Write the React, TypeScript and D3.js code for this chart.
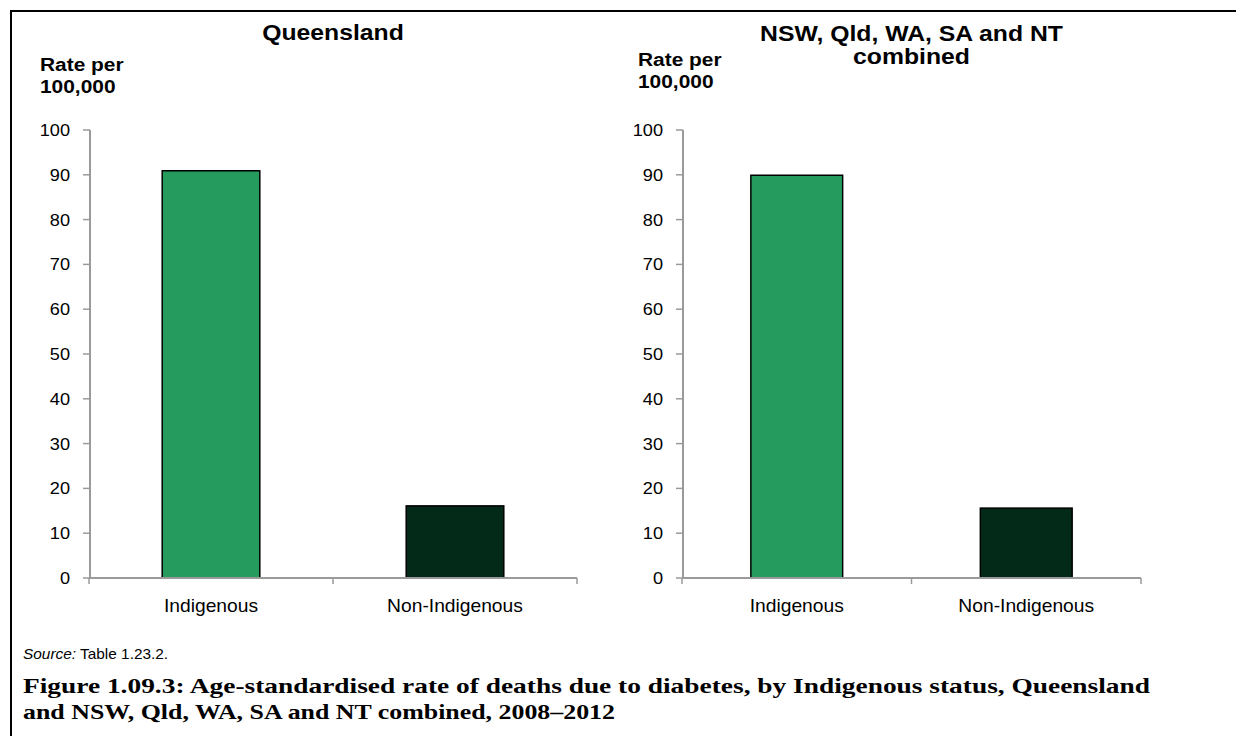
import React from "react";
import * as d3 from "d3";

const categories = ["Indigenous", "Non-Indigenous"];
const qldValues = [90.9, 16.1];
const combinedValues = [89.9, 15.6];
const yTickValues = [0, 10, 20, 30, 40, 50, 60, 70, 80, 90, 100];
const barColors = ["#259B5E", "#032A18"];
const panelTitles = [["Queensland"], ["NSW, Qld, WA, SA and NT", "combined"]];
const yAxisLabel = ["Rate per", "100,000"];
const captionLines = [
  "Figure 1.09.3: Age-standardised rate of deaths due to diabetes, by Indigenous status, Queensland",
  "and NSW, Qld, WA, SA and NT combined, 2008\u20132012",
];

const W = 1236;
const H = 736;
const FONT = "'Liberation Sans', Arial, sans-serif";
const AXIS = "#9a9a9a";
const SX = 1.1;

type TProps = {
  x: number;
  y: number;
  size: number;
  bold?: boolean;
  anchor?: "start" | "middle" | "end";
  children: React.ReactNode;
};

function T({ x, y, size, bold, anchor = "start", children }: TProps) {
  return (
    <g transform={`translate(${x},${y}) scale(${SX},1)`}>
      <text
        x={0}
        y={0}
        textAnchor={anchor}
        fontFamily={FONT}
        fontWeight={bold ? "bold" : "normal"}
        fontSize={size}
        fill="#000"
      >
        {children}
      </text>
    </g>
  );
}

type PanelProps = {
  x0: number;
  x1: number;
  values: number[];
  title: string[];
  titleY: number;
  titleGap: number;
  labelX: number;
  labelY: number;
};

function Panel({ x0, x1, values, title, titleY, titleGap, labelX, labelY }: PanelProps) {
  const y = d3.scaleLinear().domain([0, 100]).range([578, 130]);
  const x = d3
    .scaleBand<string>()
    .domain(categories)
    .range([x0, x1])
    .paddingInner(0.6)
    .paddingOuter(0.3);
  const step = x.step();
  const boundaries = d3.range(categories.length + 1).map((i) => x0 + i * step);
  const cx = (x0 + x1) / 2;
  return (
    <g>
      {title.map((t, i) => (
        <T key={t} x={cx} y={titleY + i * titleGap} size={22.5} bold anchor="middle">
          {t}
        </T>
      ))}
      {yAxisLabel.map((t, i) => (
        <T key={t} x={labelX} y={labelY + i * 22} size={19} bold>
          {t}
        </T>
      ))}
      {categories.map((c, i) => (
        <rect
          key={c}
          x={x(c)}
          y={y(values[i])}
          width={x.bandwidth()}
          height={y(0) - y(values[i])}
          fill={barColors[i]}
          stroke="#000"
          strokeWidth={1.5}
        />
      ))}
      <line x1={x0 + 1} x2={x0 + 1} y1={y(100)} y2={y(0)} stroke={AXIS} strokeWidth={2} />
      {yTickValues.map((v) => (
        <g key={v}>
          <line x1={x0 - 6} x2={x0 + 1} y1={y(v)} y2={y(v)} stroke={AXIS} strokeWidth={1.5} />
          <T x={x0 - 19} y={y(v) + 6} size={16.5} anchor="end">
            {v}
          </T>
        </g>
      ))}
      <line x1={x0} x2={x1} y1={y(0)} y2={y(0)} stroke={AXIS} strokeWidth={2} />
      {boundaries.map((b, i) => (
        <line key={i} x1={b} x2={b} y1={y(0)} y2={y(0) + 6} stroke={AXIS} strokeWidth={1.5} />
      ))}
      {categories.map((c) => (
        <T key={c} x={(x(c) as number) + x.bandwidth() / 2} y={612} size={17.5} anchor="middle">
          {c}
        </T>
      ))}
    </g>
  );
}

export default function App() {
  return (
    <svg
      width={W}
      height={H}
      style={{ position: "absolute", left: 0, top: 0, background: "#fff" }}
    >
      <rect x={0} y={0} width={W} height={H} fill="#fff" />
      <line x1={10} x2={W} y1={11} y2={11} stroke="#000" strokeWidth={2} />
      <line x1={11} x2={11} y1={10} y2={H} stroke="#000" strokeWidth={2} />
      <Panel
        x0={89}
        x1={577}
        values={qldValues}
        title={panelTitles[0]}
        titleY={40}
        titleGap={23}
        labelX={40}
        labelY={71}
      />
      <Panel
        x0={682}
        x1={1141}
        values={combinedValues}
        title={panelTitles[1]}
        titleY={41}
        titleGap={23}
        labelX={638}
        labelY={66}
      />
      <g transform={`translate(23,659) scale(${SX},1)`}>
        <text x={0} y={0} fontFamily={FONT} fontSize={14} fill="#000">
          <tspan fontStyle="italic">Source:</tspan> Table 1.23.2.
        </text>
      </g>
      {captionLines.map((t, i) => (
        <text
          key={i}
          x={23}
          y={693 + i * 26}
          fontFamily="'Liberation Serif', 'Times New Roman', serif"
          fontWeight="bold"
          fontSize={21}
          textLength={i === 0 ? 1127 : 592}
          lengthAdjust="spacingAndGlyphs"
          fill="#000"
        >
          {t}
        </text>
      ))}
    </svg>
  );
}
